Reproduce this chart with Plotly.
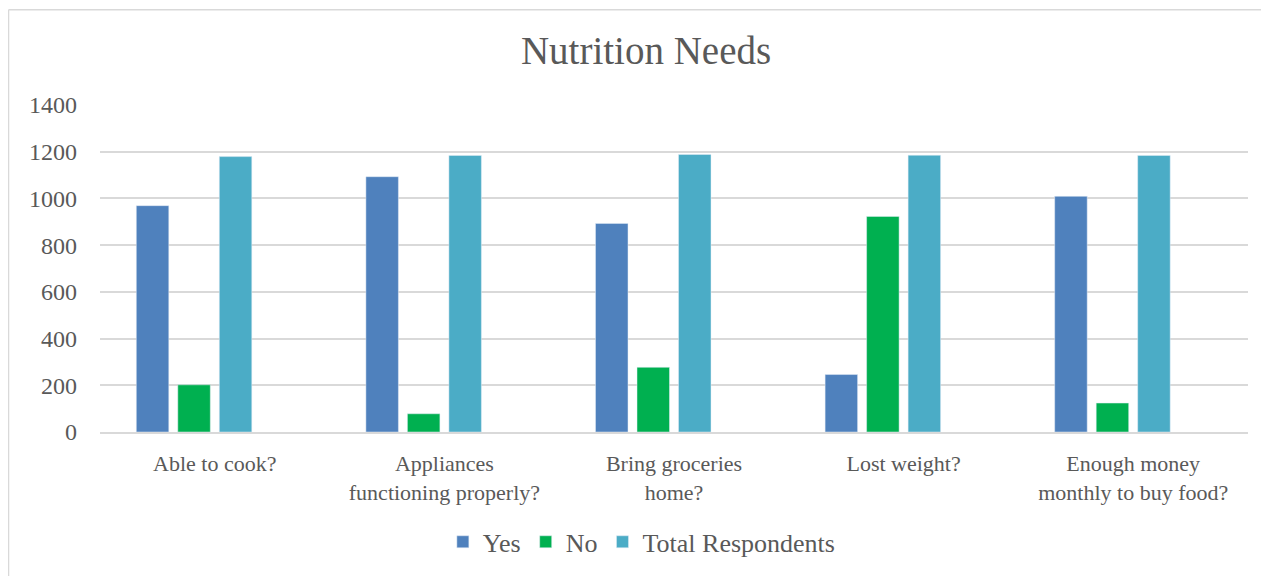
import plotly.graph_objects as go

categories = ["Able to cook?", "Appliances<br>functioning properly?", "Bring groceries<br>home?",
              "Lost weight?", "Enough money<br>monthly to buy food?"]
yes_vals = [969, 1093, 893, 246, 1009]
no_vals = [202, 78, 277, 923, 124]
total_vals = [1179, 1184, 1188, 1185, 1184]
empty_vals = [None, None, None, None, None]

FONT = "Liberation Serif"
TXT = "#595959"

fig = go.Figure()
fig.add_trace(go.Bar(name="Yes", x=categories, y=yes_vals, marker_color="#4F81BD"))
fig.add_trace(go.Bar(name="No", x=categories, y=no_vals, marker_color="#00B050"))
fig.add_trace(go.Bar(name="Total Respondents", x=categories, y=total_vals, marker_color="#4BACC6"))
fig.add_trace(go.Bar(name="", x=categories, y=empty_vals, showlegend=False, hoverinfo="skip"))

# page body has an 8px margin, so the figure is sized/shifted to compensate
fig.update_layout(
    width=1261, height=569,
    paper_bgcolor="white", plot_bgcolor="white",
    margin=dict(l=92, r=21, t=97, b=143),
    barmode="group", bargap=0.277, bargroupgap=0.217,
    title=dict(text="Nutrition Needs", x=0.506, xanchor="center", y=1 - 42 / 569,
               yanchor="middle", yref="container",
               font=dict(family=FONT, size=39, color=TXT)),
    font=dict(family=FONT, color=TXT),
    legend=dict(orientation="h", x=0.472, xanchor="center", y=-0.336, yanchor="middle",
                font=dict(family=FONT, size=26, color=TXT), traceorder="normal"),
    showlegend=True,
)
fig.update_yaxes(range=[0, 1400], dtick=200, showgrid=True, gridcolor="#D9D9D9", gridwidth=1.5,
                 zeroline=False, showline=False, tickfont=dict(family=FONT, size=24, color=TXT),
                 ticklabelstandoff=22)
fig.update_xaxes(showline=True, linecolor="#D9D9D9", linewidth=1.5, showgrid=False,
                 tickfont=dict(family=FONT, size=22, color=TXT), ticklabelstandoff=11)

# outer chart border (top and left edges visible)
fig.add_shape(type="line", xref="paper", yref="paper", x0=-0.0797, x1=1.02, y0=1.2915, y1=1.2915,
              line=dict(color="#D9D9D9", width=1.5))
fig.add_shape(type="line", xref="paper", yref="paper", x0=-0.0797, x1=-0.0797, y0=1.2915, y1=-0.44,
              line=dict(color="#D9D9D9", width=1.5))

fig.write_html("out.html")
